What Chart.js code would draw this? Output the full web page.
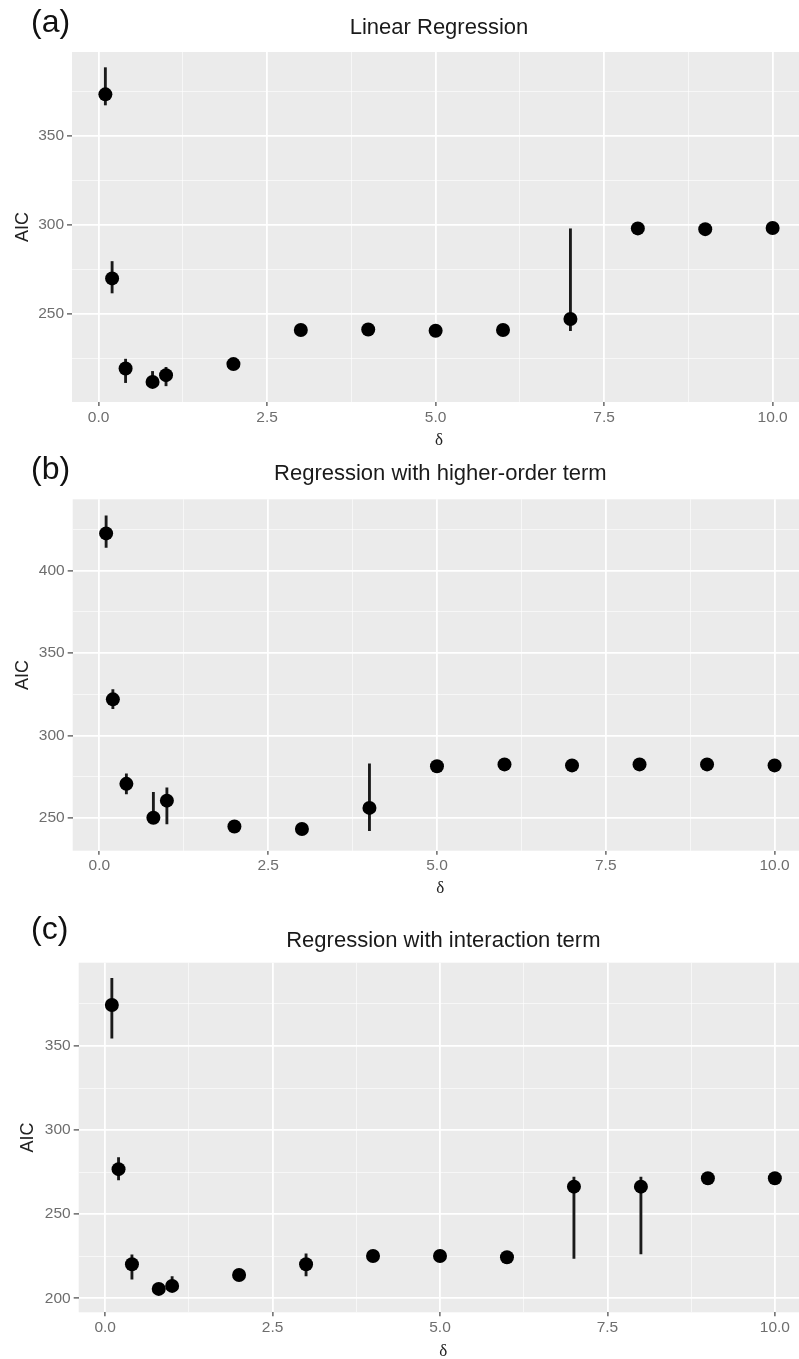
<!DOCTYPE html>
<html>
<head>
<meta charset="utf-8">
<script src="https://cdn.jsdelivr.net/npm/chart.js@4.4.1/dist/chart.umd.min.js"></script>
<style>
  html, body { margin: 0; padding: 0; background: #fff; }
  body { width: 799px; height: 1359px; position: relative; overflow: hidden; }
  .panel { position: absolute; left: 0; width: 815px; }
  .tag { position: absolute; left: 31px; font: 32px "Liberation Sans", Arial, sans-serif; line-height: 32px; color: #111; }
</style>
</head>
<body>
<div class="panel" id="panelA"><canvas id="chartA"></canvas></div>
<div class="panel" id="panelB"><canvas id="chartB"></canvas></div>
<div class="panel" id="panelC"><canvas id="chartC"></canvas></div>
<div class="tag" style="top:5px">(a)</div>
<div class="tag" style="top:452px">(b)</div>
<div class="tag" style="top:912px">(c)</div>
<script>
// delta values shared by all three fits
const delta = [0.1, 0.2, 0.4, 0.8, 1, 2, 3, 4, 5, 6, 7, 8, 9, 10];

// (a) linear regression: AIC with lower / upper bounds
const aicLinear = [373.5, 270, 219.3, 211.8, 215.6, 221.8, 241, 241.3, 240.6, 241, 247.2, 298.1, 297.7, 298.3];
const lowLinear = [367.5, 261.8, 211.4, 210.5, 209.6, 221, 240.3, 240.6, 240, 240.4, 240.6, 297.4, 297, 297.6];
const highLinear = [388.5, 279.5, 224.6, 217.7, 220, 222.6, 241.7, 242, 241.3, 241.7, 297.9, 298.8, 298.4, 299];

// (b) regression with higher-order term
const aicHigher = [422.7, 321.9, 270.6, 250, 260.4, 244.7, 243.2, 256, 281.3, 282.4, 281.8, 282.4, 282.4, 281.8];
const lowHigher = [414.2, 316.2, 264.5, 248.5, 246.3, 244, 242.5, 242.2, 280.6, 281.7, 281.1, 281.7, 281.7, 281.1];
const highHigher = [433.3, 327.8, 276.7, 265.5, 268.2, 245.4, 243.9, 282.8, 282, 283.1, 282.5, 283.1, 283.1, 282.5];

// (c) regression with interaction term
const aicInteraction = [374.4, 276.8, 220.3, 205.6, 207.4, 213.9, 220.3, 225.2, 225.2, 224.4, 266.4, 266.4, 271.4, 271.4];
const lowInteraction = [354.6, 270.4, 211.4, 204, 205, 213.2, 213.3, 224.5, 224.5, 223.7, 223.8, 226.4, 270.7, 270.7];
const highInteraction = [390.2, 283.7, 225.8, 207, 212.9, 214.6, 226.4, 225.9, 225.9, 225.1, 272, 272, 272.1, 272.1];

const xMajorTicks = [0, 2.5, 5, 7.5, 10];

const SANS = '"Liberation Sans", Arial, sans-serif';

// grey ggplot-like panel background
const panelBg = {
  id: 'panelBg',
  beforeDraw(chart) {
    const { ctx, chartArea: a } = chart;
    ctx.save();
    ctx.fillStyle = '#EBEBEB';
    ctx.fillRect(a.left, a.top, a.right - a.left, a.bottom - a.top);
    ctx.restore();
  }
};

const isMajorX = v => xMajorTicks.some(t => Math.abs(t - v) < 1e-6);
const isMajorY = v => Math.abs(v % 50) < 1e-6;
const tickVal = c => (c && c.tick) ? c.tick.value : NaN;

function makePanel(id, boxId, title, aic, low, high, g) {
  const box = document.getElementById(boxId);
  box.style.top = g.top + 'px';
  box.style.height = g.height + 'px';

  const titleSize = 22, titleLine = titleSize * 1.2;
  const xtSize = 17, xtLine = xtSize * 1.2;
  const ytSize = 18, ytLine = ytSize * 1.2;

  new Chart(document.getElementById(id), {
    type: 'scatter',
    data: {
      datasets: [
        {
          type: 'scatter',
          data: delta.map((d, i) => ({ x: d, y: aic[i] })),
          backgroundColor: '#000',
          borderWidth: 0,
          pointRadius: 7,
          pointHoverRadius: 7,
          order: 0
        },
        {
          type: 'bar',
          data: delta.map((d, i) => ({ x: d, y: [low[i], high[i]] })),
          backgroundColor: '#1a1a1a',
          borderWidth: 0,
          barThickness: 2.2,
          grouped: false,
          order: 1
        }
      ]
    },
    options: {
      responsive: true,
      maintainAspectRatio: false,
      animation: false,
      layout: { padding: { left: 0, top: 0, bottom: 0, right: 815 - g.right } },
      plugins: {
        legend: { display: false },
        tooltip: { enabled: false },
        title: {
          display: true,
          text: title,
          fullSize: false,
          color: '#1a1a1a',
          font: { family: SANS, size: titleSize, weight: 'normal' },
          padding: { top: g.titleMid - g.top - titleLine / 2, bottom: g.plotTop - g.titleMid - titleLine / 2 }
        }
      },
      scales: {
        x: {
          type: 'linear',
          min: -0.395,
          max: 10.495,
          offset: false,
          border: { display: false },
          grid: {
            offset: false,
            color: c => isMajorX(tickVal(c)) ? '#ffffff' : 'rgba(255,255,255,0.6)',
            lineWidth: c => isMajorX(tickVal(c)) ? 1.8 : 1,
            tickColor: c => isMajorX(tickVal(c)) ? '#444' : 'rgba(0,0,0,0)',
            tickLength: 4,
            tickWidth: 1.2
          },
          ticks: {
            stepSize: 1.25,
            includeBounds: false,
            autoSkip: false,
            maxRotation: 0,
            padding: 2,
            color: '#6e6e6e',
            font: { family: SANS, size: 15.5 },
            callback: v => isMajorX(v) ? v.toFixed(1) : ''
          },
          title: {
            display: true,
            text: 'δ',
            color: '#222',
            font: { family: '"Liberation Serif", "DejaVu Serif", serif', size: xtSize },
            padding: { top: 0, bottom: (g.top + g.height) - g.xTitleMid - xtLine / 2 }
          },
          afterFit: s => { s.height = g.top + g.height - g.plotBottom; }
        },
        y: {
          type: 'linear',
          min: g.yMin,
          max: g.yMax,
          border: { display: false },
          grid: {
            color: c => isMajorY(tickVal(c)) ? '#ffffff' : 'rgba(255,255,255,0.6)',
            lineWidth: c => isMajorY(tickVal(c)) ? 1.8 : 1,
            tickColor: c => isMajorY(tickVal(c)) ? '#444' : 'rgba(0,0,0,0)',
            tickLength: 5,
            tickWidth: 1.2
          },
          ticks: {
            stepSize: 25,
            includeBounds: false,
            padding: 3,
            color: '#6e6e6e',
            font: { family: SANS, size: 15.5 },
            callback: v => isMajorY(v) ? String(v) : ''
          },
          title: {
            display: true,
            text: 'AIC',
            color: '#222',
            font: { family: SANS, size: ytSize },
            padding: { top: g.yTitleMid - ytLine / 2, bottom: 0 }
          },
          afterFit: s => { s.width = g.left; }
        }
      }
    },
    plugins: [panelBg]
  });
}

makePanel('chartA', 'panelA', 'Linear Regression', aicLinear, lowLinear, highLinear,
  { top: 0, height: 450, left: 72, right: 806, plotTop: 52, plotBottom: 402,
    titleMid: 28, xTitleMid: 441, yTitleMid: 23, yMin: 200.5, yMax: 397.3 });

makePanel('chartB', 'panelB', 'Regression with higher-order term', aicHigher, lowHigher, highHigher,
  { top: 450, height: 450, left: 72.7, right: 811.3, plotTop: 499.3, plotBottom: 850.7,
    titleMid: 473.5, xTitleMid: 889, yTitleMid: 23.5, yMin: 230, yMax: 443.4 });

makePanel('chartC', 'panelC', 'Regression with interaction term', aicInteraction, lowInteraction, highInteraction,
  { top: 900, height: 470, left: 78.7, right: 812.4, plotTop: 962.7, plotBottom: 1312.3,
    titleMid: 940.5, xTitleMid: 1352, yTitleMid: 28.5, yMin: 191.7, yMax: 399.5 });
</script>
</body>
</html>
